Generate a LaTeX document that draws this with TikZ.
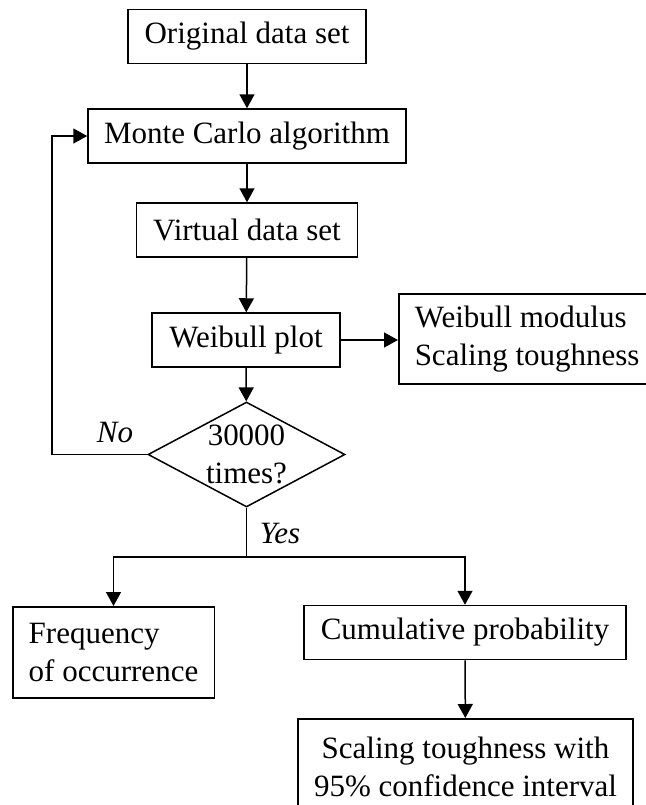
\documentclass[tikz,border=0pt]{standalone}
\usepackage{fontspec}
\setmainfont{Liberation Serif}
\usetikzlibrary{shapes.geometric, arrows.meta, positioning}

\begin{document}
\begin{tikzpicture}[
		x=0.5pt, y=-0.5pt,
		every node/.style={font=\fontsize{15.5}{18.75}\selectfont},
		block/.style={draw, rectangle, line width=0.75pt, inner sep=0pt, minimum height=27pt, align=center},
		multi/.style={draw, rectangle, line width=0.75pt, inner xsep=8pt, inner ysep=0pt, align=flush left},
		decision/.style={draw, diamond, line width=0.75pt, inner sep=0pt, minimum width=98.5pt, minimum height=52.5pt},
		answer/.style={font=\fontsize{15.5}{18.75}\selectfont\itshape},
		flow/.style={-{Triangle[length=7pt, width=7.5pt]}, line width=0.75pt},
		link/.style={line width=0.75pt}
		]
		\useasboundingbox (0,0) rectangle (645,805);
		
		% main loop
		\node[block, minimum width=119pt] (orig) at (247,36.5) {Original data set};
		\node[block, minimum width=159pt] (mc) at (247,136) {Monte Carlo algorithm};
		\node[block, minimum width=110.5pt] (virt) at (247,230) {Virtual data set};
		\node[block, minimum width=94pt] (wplot) at (246,340) {Weibull plot};
		\node[multi, anchor=west, minimum height=45pt, text width=116pt] (wmod) at (398,339) {Weibull modulus\\Scaling toughness};
		\node[decision] (dec) at (246.5,454.5) {};
		\node[align=center, inner sep=0pt] (dectext) at (dec.center) {30000\\times?};
		\node[answer] (no) at (115,432) {No};
		\node[answer] (yes) at (280,533) {Yes};
		\coordinate (back) at (52,454.5);
		\coordinate (split) at (246.5,557);
		
		% results
		\node[multi, anchor=north west, minimum height=45.5pt] (freq) at (12,606) {Frequency\\of occurrence};
		\node[block, minimum width=161pt] (cum) at (465,632.5) {Cumulative probability};
		\node[block, anchor=north, minimum width=167.5pt, minimum height=48pt] (scal) at (465.5,718) {Scaling toughness with\\95\% confidence interval};
		
		\draw[flow] (orig) -- (mc);
		\draw[flow] (mc) -- (virt);
		\draw[flow] (virt) -- (wplot);
		\draw[flow] (wplot.east) -- (wplot.east -| wmod.west);
		\draw[flow] (wplot) -- (dec);
		\draw[flow] (dec.west) -- (back) |- (mc.west);
		\draw[link] (dec.south) -- (split);
		\draw[flow] (split) -| (freq);
		\draw[flow] (split) -| (cum);
		\draw[flow] (cum) -- (scal);
		
	\end{tikzpicture}
\end{document}
